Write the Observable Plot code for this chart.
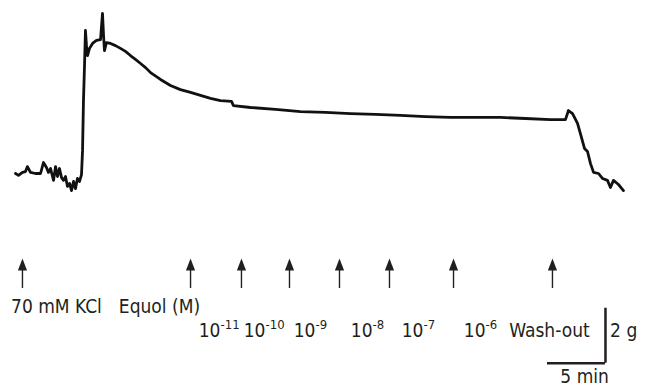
<!DOCTYPE html>
<html><head><meta charset="utf-8">
<script src="https://cdn.jsdelivr.net/npm/d3@7"></script>
<script src="https://cdn.jsdelivr.net/npm/@observablehq/plot@0.6"></script>
<style>
body{margin:0;background:#fff}
#chart svg{display:block}
</style>
</head><body><div id="chart"></div>
<script>
// Tension trace: time (min) and tension (g, relative to resting baseline)
const traceTime = [0,0.26,0.60,0.86,1.03,1.29,1.72,2.16,2.41,2.67,2.84,3.02,3.28,3.45,3.62,3.79,3.97,4.14,4.31,4.48,4.66,4.83,5.00,5.17,5.34,5.52,5.69,5.78,5.86,5.95,6.03,6.12,6.21,6.38,6.64,6.98,7.33,7.50,7.59,7.67,7.84,8.19,8.62,9.05,9.48,9.91,10.34,10.78,11.21,11.64,12.50,13.36,14.22,15.09,15.95,16.81,17.67,18.62,18.79,20.26,22.41,24.57,26.72,28.88,31.03,33.19,35.34,37.50,39.66,41.81,43.97,46.12,47.41,47.67,48.02,48.45,48.79,49.05,49.31,49.57,49.83,50.26,50.60,51.03,51.29,51.55,51.98,52.41];
const traceTension = [0,-0.07,0.04,0.07,0.25,0.04,0,0,0.40,0.22,0.04,0.18,-0.25,0.25,-0.11,0.18,-0.15,-0.25,-0.11,-0.47,-0.36,-0.62,-0.29,-0.55,-0.18,-0.29,-0.04,0.84,2.65,3.93,5.20,4.65,4.29,4.55,4.73,4.84,4.87,5.82,5.02,4.47,4.76,4.73,4.65,4.55,4.44,4.29,4.15,4.00,3.85,3.67,3.42,3.20,3.05,2.95,2.84,2.73,2.65,2.62,2.47,2.40,2.33,2.25,2.22,2.18,2.15,2.11,2.07,2.04,2.04,2.04,2.00,1.96,1.96,2.29,2.18,1.82,1.31,0.91,0.80,0.36,0.04,0,-0.18,-0.25,-0.51,-0.25,-0.40,-0.62];

// Additions (arrows), min
const arrowTimes = [0.60, 15.09, 19.48, 23.62, 27.93, 32.24, 37.76, 46.29];

// Labels
const mainLabels = ["70 mM KCl", "Equol (M)"];
const mainLabelTimes = [3.53, 12.41];
const doseBase = "10";
const doseExponents = ["-11", "-10", "-9", "-8", "-7", "-6"];
const doseTimes = [17.67, 21.55, 25.86, 30.78, 35.17, 40.52];
const washLabel = ["Wash-out"];
const washTime = [46.03];

// Scale bar: 5 min, 2 g
const scaleMinutes = 5;
const scaleGrams = 2;
const scaleCornerTime = 50.86;
const scaleCornerTension = -6.9;

// Annotation rows (g units, below the trace)
const arrowBottom = -4.18, arrowShaftTop = -3.5, arrowHeadY = -3.33;
const labelRow = -4.84, doseRow = -5.71, minRow = -7.38;

const trace = traceTime.map((t, i) => ({t, g: traceTension[i]}));
const doses = doseExponents.map((e, i) => ({t: doseTimes[i], e}));
const mains = mainLabels.map((s, i) => ({t: mainLabelTimes[i], s}));

const font = "'Liberation Sans Narrow','Arial Narrow','DejaVu Sans Condensed',sans-serif";
const ink = "#231f20";

// filled, slightly elongated arrowhead
const arrowHead = {
  draw(context) {
    context.moveTo(0, -6.5);
    context.lineTo(4.6, 5.5);
    context.lineTo(-4.6, 5.5);
    context.closePath();
  }
};

const chart = Plot.plot({
  width: 646, height: 387, margin: 0,
  style: {fontFamily: font, background: "#fff", color: ink},
  x: {domain: [-15/11.6, 631/11.6], axis: null},
  y: {domain: [-214/27.5, 173/27.5], axis: null},
  marks: [
    Plot.line(trace, {x: "t", y: "g", stroke: "#111", strokeWidth: 2.8, strokeLinejoin: "round"}),
    Plot.ruleX(arrowTimes, {x: d => d, y1: arrowBottom, y2: arrowShaftTop, stroke: ink, strokeWidth: 1.4}),
    Plot.dot(arrowTimes, {x: d => d, y: arrowHeadY, symbol: arrowHead, fill: ink, stroke: null}),
    Plot.text(mains, {x: "t", y: labelRow, text: "s", fontSize: 19, fill: ink}),
    Plot.text(doses, {x: "t", y: doseRow, text: () => doseBase, textAnchor: "end", fontSize: 19, fill: ink}),
    Plot.text(doses, {x: "t", y: doseRow, text: "e", textAnchor: "start", fontSize: 13, dy: -6, fill: ink}),
    Plot.text(washLabel, {x: washTime, y: doseRow, text: d => d, fontSize: 19, fill: ink}),
    Plot.ruleX([scaleCornerTime], {y1: scaleCornerTension, y2: scaleCornerTension + scaleGrams, stroke: ink, strokeWidth: 2.5}),
    Plot.ruleY([scaleCornerTension], {x1: scaleCornerTime - scaleMinutes, x2: scaleCornerTime, stroke: ink, strokeWidth: 2.5}),
    Plot.text([`${scaleGrams} g`], {x: scaleCornerTime + 0.4, y: doseRow, text: d => d, textAnchor: "start", fontSize: 19, fill: ink}),
    Plot.text([`${scaleMinutes} min`], {x: scaleCornerTime - 1.8, y: minRow, text: d => d, fontSize: 19, fill: ink})
  ]
});
document.getElementById("chart").append(chart);
</script>
</body></html>
